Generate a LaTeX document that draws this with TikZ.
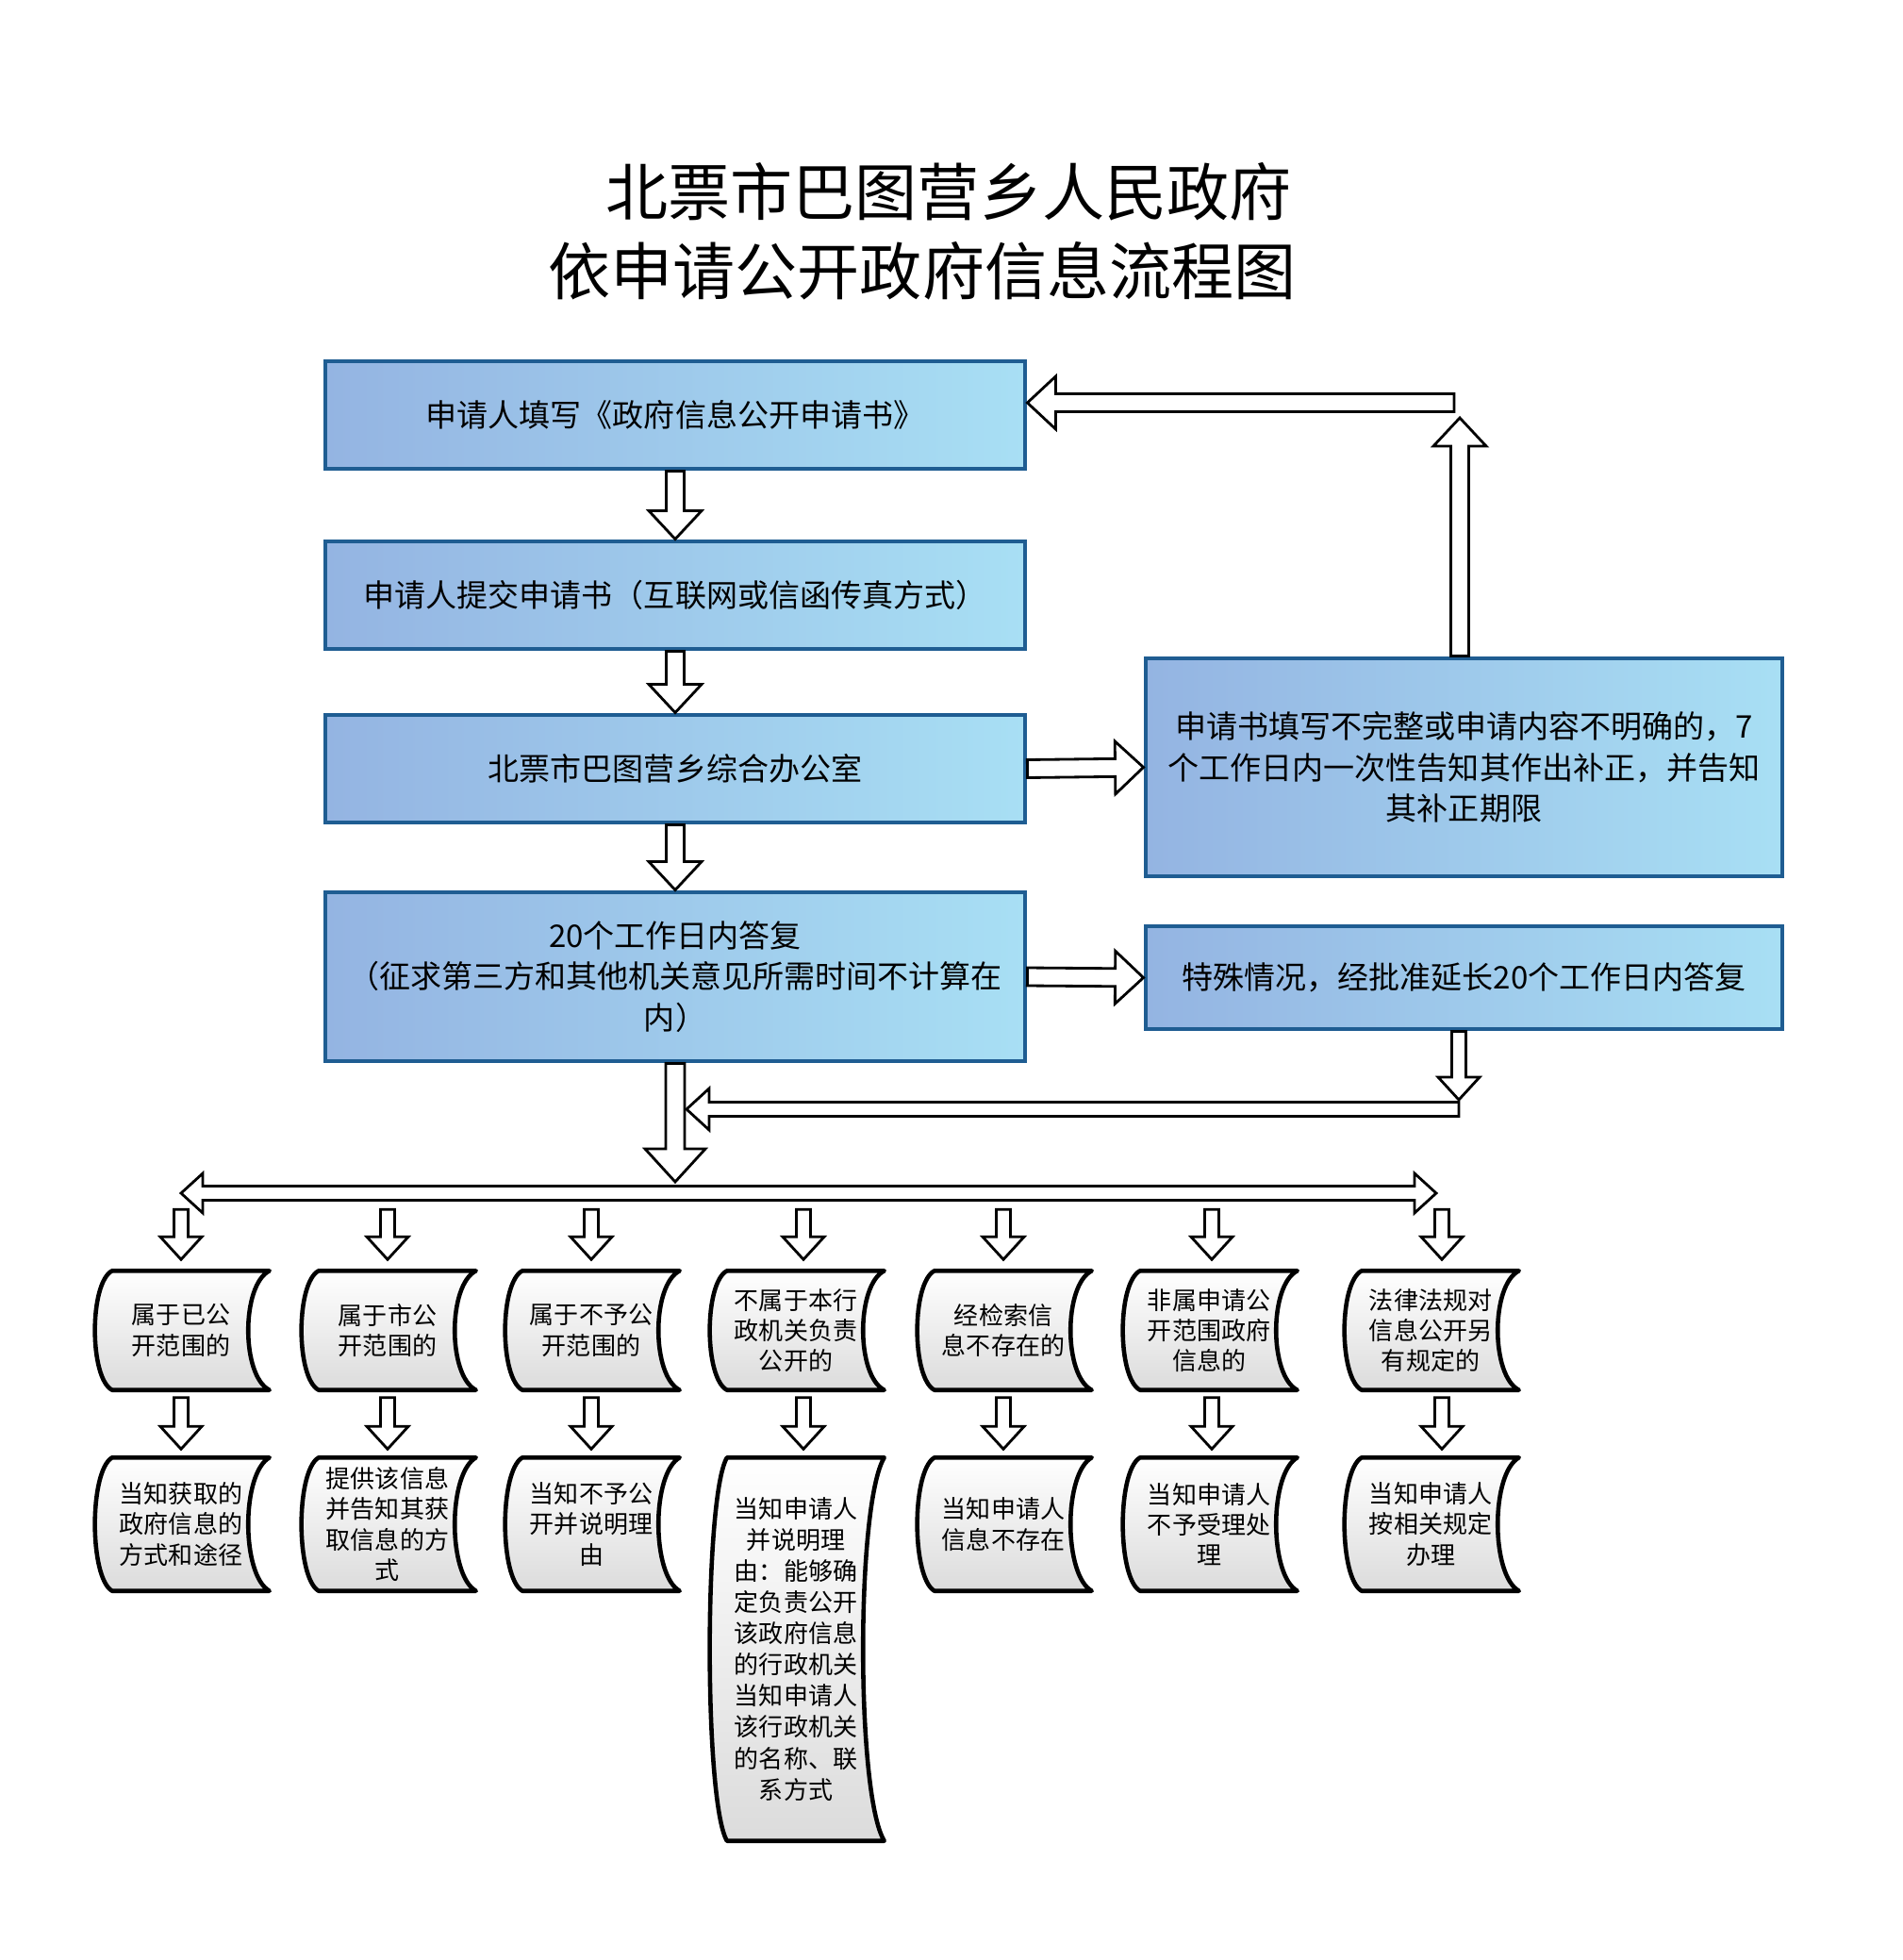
\documentclass[tikz,border=0pt]{standalone}
\usepackage{fontspec}
\usepackage{tikz}
\usetikzlibrary{calc,backgrounds}
\usepackage{xcolor}
\setmainfont{Noto Sans CJK SC}
\definecolor{boxedge}{RGB}{31,93,146}
\definecolor{boxleft}{RGB}{148,180,226}
\definecolor{boxright}{RGB}{168,223,244}
\tikzset{
  blk/.style n args={3}{draw, fill=white, line width=0.8pt,
    to path={let \p1=(\tikztostart), \p2=(\tikztotarget) in
      ($(\p1)!#1!90:(\p2)$) -- ($(\p2)!#3!(\p1)!#1!-90:(\p1)$)
      -- ($(\p2)!#3!(\p1)!#2!-90:(\p1)$) -- (\p2)
      -- ($(\p2)!#3!(\p1)!#2!90:(\p1)$) -- ($(\p2)!#3!(\p1)!#1!90:(\p1)$)
      -- ($(\p1)!#1!-90:(\p2)$) -- cycle}},
  blkboth/.style n args={3}{draw, fill=white, line width=0.8pt,
    to path={let \p1=(\tikztostart), \p2=(\tikztotarget) in
      (\p1) -- ($(\p1)!#3!(\p2)!#2!90:(\p2)$) -- ($(\p1)!#3!(\p2)!#1!90:(\p2)$)
      -- ($(\p2)!#3!(\p1)!#1!-90:(\p1)$) -- ($(\p2)!#3!(\p1)!#2!-90:(\p1)$) -- (\p2)
      -- ($(\p2)!#3!(\p1)!#2!90:(\p1)$) -- ($(\p2)!#3!(\p1)!#1!90:(\p1)$)
      -- ($(\p1)!#3!(\p2)!#1!-90:(\p2)$) -- ($(\p1)!#3!(\p2)!#2!-90:(\p2)$) -- cycle}},
  bigarr/.style={blk={0.095cm}{0.28cm}{0.3cm}},
  thinarr/.style={blk={0.075cm}{0.22cm}{0.24cm}},
  mainbox/.style={draw=boxedge, line width=1.4pt, left color=boxleft, right color=boxright,
    minimum width=7.42cm, minimum height=1.14cm, inner sep=2pt, align=center,
    font=\fontsize{9.4}{12.3}\selectfont},
  sidebox/.style={mainbox, minimum width=6.75cm},
  docnode/.style={minimum width=1.86cm, minimum height=1.25cm, inner sep=0pt, align=center,
    font=\fontsize{7.4}{9.2}\selectfont},
  docshape/.style={draw, line width=1.3pt, top color=white, bottom color=gray!28, line join=round},
  titletext/.style={font=\fontsize{18.8}{22}\selectfont}
}
\begin{document}
\begin{tikzpicture}
\useasboundingbox (0,0) rectangle (20.17,-20.78);

\node[titletext] (title1) at (10.06,-2.03) {北票市巴图营乡人民政府};
\node[titletext] (title2) at (9.78,-2.87) {依申请公开政府信息流程图};

\node[mainbox] (fill) at (7.16,-4.40) {申请人填写《政府信息公开申请书》};
\node[mainbox] (submit) at (7.16,-6.31) {申请人提交申请书（互联网或信函传真方式）};
\node[mainbox] (office) at (7.16,-8.15) {北票市巴图营乡综合办公室};
\node[mainbox, minimum height=1.79cm] (reply) at (7.16,-10.355)
  {20个工作日内答复\\（征求第三方和其他机关意见所需时间不计算在\\内）};
\node[sidebox, minimum height=2.31cm] (amend) at (15.525,-8.135)
  {申请书填写不完整或申请内容不明确的，7\\个工作日内一次性告知其作出补正，并告知\\其补正期限};
\node[sidebox, minimum height=1.09cm] (extend) at (15.525,-10.365)
  {特殊情况，经批准延长20个工作日内答复};

\node[docnode] (t1) at (1.92,-14.105) {属于已公\\开范围的};
\node[docnode] (t2) at (4.11,-14.105) {属于市公\\开范围的};
\node[docnode] (t3) at (6.27,-14.105) {属于不予公\\开范围的};
\node[docnode] (t4) at (8.44,-14.105) {不属于本行\\政机关负责\\公开的};
\node[docnode] (t5) at (10.64,-14.105) {经检索信\\息不存在的};
\node[docnode] (t6) at (12.82,-14.105) {非属申请公\\开范围政府\\信息的};
\node[docnode] (t7) at (15.17,-14.105) {法律法规对\\信息公开另\\有规定的};

\node[docnode, minimum height=1.4cm] (d1) at (1.92,-16.16) {当知获取的\\政府信息的\\方式和途径};
\node[docnode, minimum height=1.4cm] (d2) at (4.11,-16.16) {提供该信息\\并告知其获\\取信息的方\\式};
\node[docnode, minimum height=1.4cm] (d3) at (6.27,-16.16) {当知不予公\\开并说明理\\由};
\node[docnode, minimum height=4.05cm, font=\fontsize{7.4}{9.4}\selectfont] (d4) at (8.44,-17.485)
  {当知申请人\\并说明理\\由：能够确\\定负责公开\\该政府信息\\的行政机关\\当知申请人\\该行政机关\\的名称、联\\系方式};
\node[docnode, minimum height=1.4cm] (d5) at (10.64,-16.16) {当知申请人\\信息不存在};
\node[docnode, minimum height=1.4cm] (d6) at (12.82,-16.16) {当知申请人\\不予受理处\\理};
\node[docnode, minimum height=1.4cm] (d7) at (15.17,-16.16) {当知申请人\\按相关规定\\办理};

\begin{scope}[on background layer]
\foreach \dn in {t1,t2,t3,t4,t5,t6,t7,d1,d2,d3,d4,d5,d6,d7}
  \path[docshape] let \p1=(\dn.north west), \p2=(\dn.south east),
      \n1={\x2-\x1}, \n2={\y1-\y2} in
    (\x1+0.11*\n1,\y1) -- (\x2,\y1)
    .. controls (\x2-0.16*\n1,\y1-0.12*\n2) and (\x2-0.16*\n1,\y2+0.12*\n2) .. (\x2,\y2)
    -- (\x1+0.11*\n1,\y2)
    .. controls (\x1-0.02*\n1,\y2+0.1*\n2) and (\x1-0.02*\n1,\y1-0.1*\n2) .. cycle;
\end{scope}

\coordinate (backtop) at (15.42,-4.27);
\coordinate (backup) at (15.48,-4.43);
\coordinate (backlow) at (15.47,-11.76);
\coordinate (splitL) at (1.92,-12.65);
\coordinate (splitR) at (15.23,-12.65);

\draw[bigarr] (fill.south) to (submit.north);
\draw[bigarr] (submit.south) to (office.north);
\draw[bigarr] (office.south) to (reply.north);
\draw[bigarr] (office.east) to (amend.west);
\draw[bigarr] (reply.east) to (extend.west);
\draw[bigarr] (amend.north -| backup) to (backup);
\draw[bigarr] (backtop) to (fill.east |- backtop);

\draw[blkboth={0.075cm}{0.21cm}{0.23cm}] (splitL) to (splitR);
\draw[thinarr] (extend.south -| backlow) to ($(backlow)+(0,0.1)$);
\draw[thinarr] (backlow) to ($(reply.south |- backlow)+(0.12,0)$);
\draw[blk={0.1cm}{0.32cm}{0.35cm}] (reply.south) to ($(reply.south |- splitL)+(0,0.12)$);

\foreach \i/\dx in {1/0,2/0,3/0,4/0.08,5/0,6/0.03,7/0.12} {
  \draw[thinarr] ($(t\i.north)+(\dx,0.65)$) to ($(t\i.north)+(\dx,0.12)$);
  \draw[thinarr] ($(t\i.south)+(\dx,-0.08)$) to ($(d\i.north)+(\dx,0.09)$);
}
\end{tikzpicture}
\end{document}
